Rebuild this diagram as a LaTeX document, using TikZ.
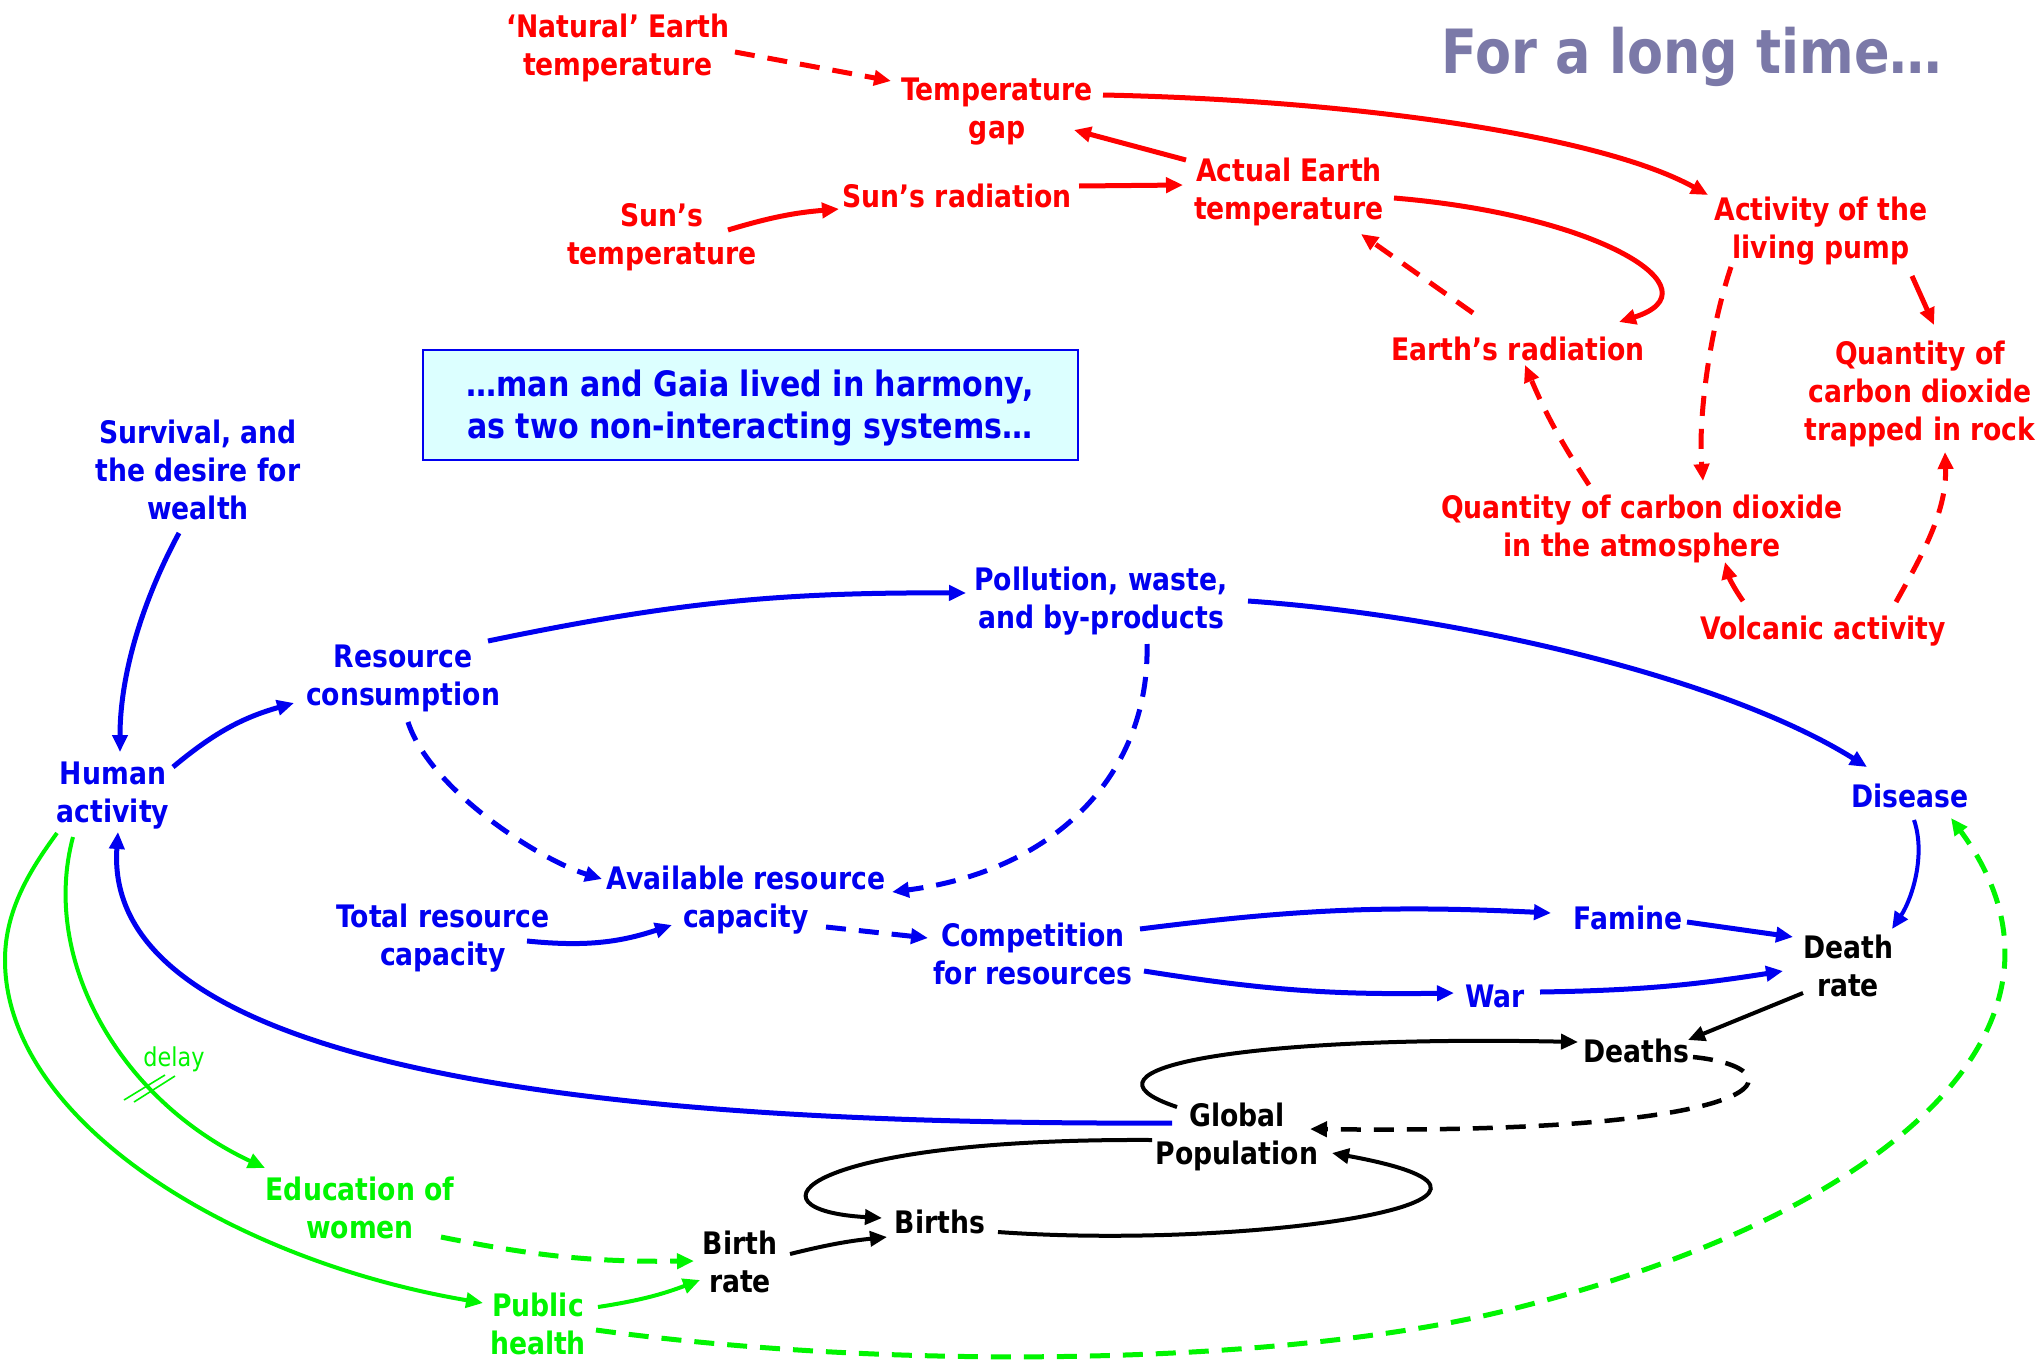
\documentclass[tikz,border=0pt]{standalone}
\usepackage{fontspec}
\newfontfamily\lab{DejaVu Sans}[FakeStretch=0.86]
\usetikzlibrary{arrows.meta,calc}
\definecolor{cRed}{RGB}{255,0,0}
\definecolor{cBlue}{RGB}{0,0,240}
\definecolor{cGreen}{RGB}{0,245,0}
\definecolor{cTitle}{RGB}{123,121,168}
\definecolor{cBox}{RGB}{220,255,255}
% taller first line: sets a two-line label a little lower in its node
\newcommand\tallline{\rule{0pt}{29.6pt}}
\begin{document}
\begin{tikzpicture}[x=1pt,y=-1pt,
  lbl/.style={font=\lab\bfseries\fontsize{31}{37.7}\selectfont, align=center, inner sep=0pt},
  link/.style={line width=5pt, -{Triangle[length=17pt,width=15pt]}},
  thinlink/.style={link, line width=4pt},
  dlink/.style={link, dash pattern=on 20pt off 13pt},
]
\fill[white] (0,0) rectangle (2039,1368);
\useasboundingbox (0,0) rectangle (2039,1368);

% ---- title and caption box
\node[font=\lab\bfseries\fontsize{61}{70}\selectfont, text=cTitle, anchor=base, inner sep=0pt] (title) at (1692,73) {For a long time…};
\node[draw=cBlue, line width=2pt, fill=cBox, minimum width=655pt, minimum height=110pt,
      text=cBlue, align=center, font=\lab\bfseries\fontsize{35}{41.6}\selectfont] (gaia) at (750,405)
      {\rule{0pt}{32pt}…man and Gaia lived in harmony,\\as two non-interacting systems…};

% ---- Gaia (red)
\node[lbl, cRed] (nat)   at (618,45)   {\tallline‘Natural’ Earth\\temperature};
\node[lbl, cRed] (tgap)  at (997,108)  {\tallline Temperature\\gap};
\node[lbl, cRed] (sunt)  at (662,234)  {\tallline Sun’s\\temperature};
\node[lbl, cRed] (sunr)  at (957,196)  {Sun’s radiation};
\node[lbl, cRed] (aet)   at (1289,189) {\tallline Actual Earth\\temperature};
\node[lbl, cRed] (erad)  at (1518,349) {Earth’s radiation};
\node[lbl, cRed] (pump)  at (1821,228) {\tallline Activity of the\\living pump};
\node[lbl, cRed] (rock)  at (1920,391) {\tallline Quantity of\\carbon dioxide\\trapped in rock};
\node[lbl, cRed] (co2)   at (1642,526) {\tallline Quantity of carbon dioxide\\in the atmosphere};
\node[lbl, cRed] (volc)  at (1823,631) {Volcanic activity};

% ---- human system (blue)
\node[lbl, cBlue] (surv)   at (198,470)  {Survival, and\\the desire for\\wealth};
\node[lbl, cBlue] (human)  at (113,792)  {\tallline Human\\activity};
\node[lbl, cBlue] (rcons)  at (403,675)  {\tallline Resource\\consumption};
\node[lbl, cBlue] (poll)   at (1101,598) {\tallline Pollution, waste,\\and by-products};
\node[lbl, cBlue] (dis)    at (1910,796) {Disease};
\node[lbl, cBlue] (avail)  at (746,897)  {\tallline Available resource\\capacity};
\node[lbl, cBlue] (total)  at (443,935)  {\tallline Total resource\\capacity};
\node[lbl, cBlue] (comp)   at (1033,954) {Competition\\for resources};
\node[lbl, cBlue] (famine) at (1628,918) {Famine};
\node[lbl, cBlue] (war)    at (1495,996) {War};

% ---- population (black)
\node[lbl] (drate)  at (1848,966)  {Death\\rate};
\node[lbl] (deaths) at (1636,1051) {Deaths};
\node[lbl] (gpop)   at (1237,1134) {\tallline Global\\Population};
\node[lbl] (births) at (940,1222)  {Births};
\node[lbl] (brate)  at (740,1262)  {Birth\\rate};

% ---- policies (green)
\node[lbl, cGreen] (edu) at (360,1208) {Education of\\women};
\node[lbl, cGreen] (pub) at (538,1324) {Public\\health};
\node[cGreen, font=\lab\fontsize{26}{30}\selectfont, inner sep=0pt] (delay) at (174,1059) {delay};

% ---- red links
\draw[dlink, cRed] ($(nat)+(117,7)$) -- ($(tgap)+(-106,-27)$);
\draw[link, cRed] ($(tgap)+(106,-13)$) .. controls +(247,5) and +(-108,-60) .. ($(pump)+(-113,-33)$);
\draw[link, cRed] ($(aet)+(-103,-29)$) -- ($(tgap)+(77,22)$);
\draw[link, cRed] ($(sunt)+(66,-4)$) to[bend left=6] ($(sunr)+(-118,13)$);
\draw[link, cRed] ($(sunr)+(122,-10)$) -- ($(aet)+(-106,-4)$);
\draw[link, cRed] ($(aet)+(105,9)$) .. controls +(206,17) and +(101,-32) .. ($(erad)+(101,-27)$);
\draw[dlink, cRed] ($(erad)+(-45,-36)$) -- ($(aet)+(72,45)$);
\draw[dlink, cRed] ($(co2)+(-53,-41)$) to[bend left=5] ($(erad)+(7,16)$);
\draw[dlink, cRed] ($(pump)+(-90,39)$) .. controls +(-22,65) and +(-5,-60) .. ($(co2)+(61,-45)$);
\draw[link, cRed] ($(pump)+(91,48)$) -- ($(rock)+(14,-66)$);
\draw[link, cRed] ($(volc)+(-80,-30)$) to[bend left=10] ($(co2)+(83,36)$);
\draw[dlink, cRed] ($(volc)+(73,-29)$) .. controls +(25,-45) and +(2,60) .. ($(rock)+(25,61)$);

% ---- blue links
\draw[link, cBlue] ($(surv)+(-19,63)$) .. controls +(-35,65) and +(0,-80) .. ($(human)+(7,-40)$);
\draw[link, cBlue] ($(human)+(60,-25)$) to[bend left=12] ($(rcons)+(-109,28)$);
\draw[link, cBlue] ($(rcons)+(85,-34)$) to[bend left=6] ($(poll)+(-135,-5)$);
\draw[link, cBlue] ($(poll)+(147,3)$) .. controls +(202,14) and +(-147,-92) .. ($(dis)+(-43,-29)$);
\draw[dlink, cBlue] ($(rcons)+(5,47)$) .. controls +(22,68) and +(-62,-19) .. ($(avail)+(-144,-18)$);
\draw[dlink, cBlue] ($(poll)+(46,46)$) .. controls +(3,126) and +(168,-22) .. ($(avail)+(146,-5)$);
\draw[link, cBlue] ($(total)+(84,6)$) to[bend right=12] ($(avail)+(-74,28)$);
\draw[dlink, cBlue] ($(avail)+(80,30)$) -- ($(comp)+(-105,-16)$);
\draw[link, cBlue] ($(comp)+(107,-25)$) to[bend left=5] ($(famine)+(-77,-5)$);
\draw[link, cBlue] ($(comp)+(111,17)$) to[bend right=5] ($(war)+(-41,-3)$);
\draw[link, cBlue] ($(famine)+(59,4)$) -- ($(drate)+(-55,-29)$);
\draw[link, cBlue] ($(war)+(45,-4)$) to[bend right=4] ($(drate)+(-65,5)$);
\draw[thinlink, cBlue] ($(dis)+(4,24)$) .. controls +(12,35) and +(20,-30) .. ($(drate)+(44,-37)$);
\draw[link, cBlue] ($(gpop)+(-65,-11)$) .. controls +(-472,2) and +(-18,258) .. ($(human)+(5,40)$);

% ---- black links
\draw[thinlink] ($(drate)+(-45,27)$) -- ($(deaths)+(52,-11)$);
\draw[thinlink] ($(gpop)+(-60,-27)$) .. controls +(-117,-39) and +(-328,-7) .. ($(deaths)+(-58,-9)$);
\draw[dlink, line width=4.5pt] ($(deaths)+(57,6)$) .. controls +(107,11) and +(480,6) .. ($(gpop)+(73,-5)$);
\draw[thinlink] ($(births)+(58,10)$) .. controls +(252,18) and +(258,47) .. ($(gpop)+(95,19)$);
\draw[thinlink] ($(gpop)+(-85,6)$) .. controls +(-352,-2) and +(-142,-8) .. ($(births)+(-58,-4)$);
\draw[thinlink] ($(brate)+(50,-8)$) to[bend left=4] ($(births)+(-53,15)$);

% ---- green links
\draw[thinlink, cGreen] ($(human)+(-40,45)$) .. controls +(-33,123) and +(-145,-68) .. ($(edu)+(-95,-40)$);
\draw[thinlink, cGreen] ($(human)+(-56,41)$) .. controls +(-27,37) and +(0,-50) .. +(-52,127)
      .. controls +(0,160) and +(-253,-43) .. ($(pub)+(-55,-21)$);
\draw[dlink, cGreen] ($(edu)+(81,29)$) to[bend right=6] ($(brate)+(-46,-1)$);
\draw[thinlink, cGreen] ($(pub)+(60,-17)$) to[bend right=6] ($(brate)+(-40,18)$);
\draw[dlink, cGreen] ($(pub)+(58,6)$) .. controls +(304,42) and +(-220,58) .. +(924,-23)
      .. controls +(380,-97) and +(149,202) .. ($(dis)+(41,22)$);

% delay mark across the education link
\draw[cGreen, line width=1.6pt] ($(delay)+(-50,41)$) -- ($(delay)+(-9,16)$);
\draw[cGreen, line width=1.6pt] ($(delay)+(-40,43)$) -- ($(delay)+(1,17)$);
\end{tikzpicture}
\end{document}
